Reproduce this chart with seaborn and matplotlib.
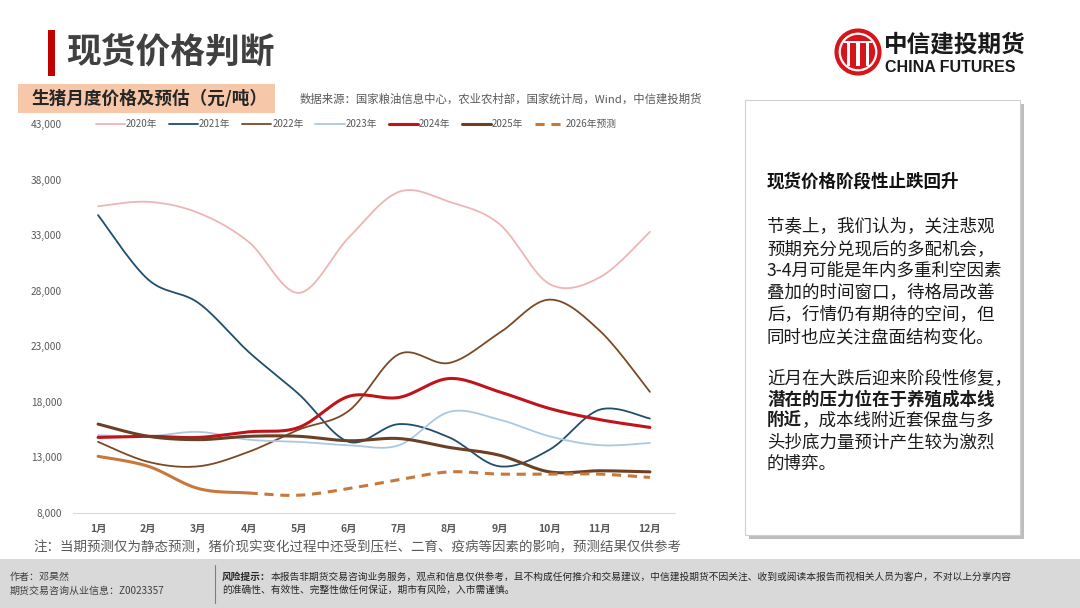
import numpy as np
import pandas as pd
import matplotlib
matplotlib.use('Agg')
import matplotlib.pyplot as plt
import matplotlib.patches as patches
from matplotlib.lines import Line2D
import seaborn as sns

# 数据（元/吨）
months = ['1月', '2月', '3月', '4月', '5月', '6月', '7月', '8月', '9月', '10月', '11月', '12月']
p2020 = [35600, 36000, 35000, 32400, 27800, 32800, 36900, 36000, 34000, 28600, 29200, 33300]
p2021 = [34800, 29000, 26900, 22500, 18700, 14400, 16000, 14800, 12200, 13700, 17300, 16500]
p2022 = [14400, 12600, 12200, 13500, 15500, 17200, 22300, 21500, 24200, 27200, 24400, 18900]
p2023 = [15000, 14900, 15300, 14600, 14400, 14100, 14100, 17100, 16400, 14900, 14100, 14300]
p2024 = [14800, 14900, 14800, 15300, 15700, 18500, 18400, 20100, 18900, 17400, 16400, 15700]
p2025 = [16000, 14900, 14600, 14900, 14900, 14500, 14700, 13900, 13200, 11700, 11800, 11700]
p2026 = [13100, 12200, 10200, 9800, 9600, 10200, 11000, 11700, 11500, 11500, 11500, 11200]
n_actual_2026 = 4  # 1-4月为实际，其后为预测
yticks = [8000, 13000, 18000, 23000, 28000, 33000, 38000, 43000]

series = [
    ('2020年', p2020, '#EDB5B6', 1.3),
    ('2021年', p2021, '#1F4E6E', 1.3),
    ('2022年', p2022, '#7A4A26', 1.3),
    ('2023年', p2023, '#A9C8E2', 1.3),
    ('2024年', p2024, '#C0141B', 2.2),
    ('2025年', p2025, '#6B4024', 2.2),
]
c2026 = '#C8783A'

sns.set_style('white')
plt.rcParams['font.family'] = ['Noto Sans CJK SC', 'DejaVu Sans']

W, H = 1080, 608


def fx(x):
    return x / W


def fy(y):
    return 1 - y / H


def smooth(ys, n=16):
    # Excel 风格平滑线（Bezier / Catmull-Rom）
    pts = np.column_stack([np.arange(len(ys)), ys]).astype(float)
    p = np.vstack([pts[0], pts, pts[-1]])
    t = np.linspace(0, 1, n, endpoint=False)[:, None]
    out = []
    for i in range(1, len(p) - 2):
        p0, p1, p2, p3 = p[i - 1], p[i], p[i + 1], p[i + 2]
        c1 = p1 + (p2 - p0) / 6
        c2 = p2 - (p3 - p1) / 6
        seg = (1 - t) ** 3 * p1 + 3 * (1 - t) ** 2 * t * c1 + 3 * (1 - t) * t ** 2 * c2 + t ** 3 * p2
        out.append(seg)
    out.append(pts[-1:])
    return np.vstack(out), n


fig = plt.figure(figsize=(10.8, 6.08), dpi=100)
fig.patch.set_facecolor('white')

ax = fig.add_axes([fx(73), fy(513), fx(675) - fx(73), fy(124) - fy(513)])

for name, vals, col, lw in series:
    cv, _ = smooth(vals)
    sns.lineplot(x=cv[:, 0], y=cv[:, 1], sort=False, estimator=None, ax=ax,
                 color=col, lw=lw, label=name)

cv, n = smooth(p2026)
cut = (n_actual_2026 - 1) * n
sns.lineplot(x=cv[:cut + 1, 0], y=cv[:cut + 1, 1], sort=False, estimator=None, ax=ax,
             color=c2026, lw=2.2)
sns.lineplot(x=cv[cut:, 0], y=cv[cut:, 1], sort=False, estimator=None, ax=ax,
             color=c2026, lw=2.2, linestyle=(0, (3, 2.2)), label='2026年预测')

ax.set_xlim(-0.5, len(months) - 0.5)
ax.set_ylim(yticks[0], yticks[-1])
ax.set_yticks(yticks)
ax.set_yticklabels([f'{v:,}' for v in yticks])
ax.set_xticks(range(len(months)))
ax.set_xticklabels(months)
ax.set_xticks(np.arange(-0.5, len(months), 1), minor=True)
ax.tick_params(axis='x', which='major', length=0, pad=8, labelsize=7.5, labelcolor='#595959')
ax.tick_params(axis='x', which='minor', length=4, color='#D9D9D9', width=0.8)
ax.tick_params(axis='y', length=0, pad=8, labelsize=7.3, labelcolor='#595959')
for lab in ax.get_xticklabels():
    lab.set_fontweight('bold')
for s in ['top', 'right', 'left']:
    ax.spines[s].set_visible(False)
ax.spines['bottom'].set_color('#D9D9D9')
ax.set_xlabel('')
ax.set_ylabel('')

leg = ax.legend(ncol=7, loc='center', bbox_to_anchor=(0.47, 1.0), frameon=False,
                fontsize=7, handlelength=3.0, columnspacing=1.2, handletextpad=0.1)
for t in leg.get_texts():
    t.set_color('#595959')

# 标题
fig.add_artist(patches.Rectangle((fx(48), fy(76)), fx(7), fy(30) - fy(76),
                                 transform=fig.transFigure, color='#C00000', lw=0))
fig.text(fx(66), fy(52), '现货价格判断', fontsize=25, fontweight='bold', color='#404040', va='center')

# Logo
lax = fig.add_axes([fx(834), fy(76), fx(48), fy(28) - fy(76)])
lax.set_aspect('equal')
lax.set_xlim(-1.05, 1.05)
lax.set_ylim(-1.05, 1.05)
lax.axis('off')
lax.add_patch(patches.Circle((0, 0), 1.0, color='#D7141A'))
lax.add_patch(patches.Circle((0, 0), 0.8, fill=False, ec='white', lw=1.6))
for xb in [-0.42, 0.0, 0.42]:
    lax.add_patch(patches.Rectangle((xb - 0.07, -0.6), 0.14, 1.05, color='white', lw=0))
lax.add_patch(patches.Rectangle((-0.6, 0.38), 1.2, 0.12, color='white', lw=0))
fig.text(fx(884), fy(45), '中信建投期货', fontsize=17, fontweight='bold', color='#1A1A1A', va='center')
fig.text(fx(885), fy(67), 'CHINA FUTURES', fontsize=11.5, fontweight='bold', color='#1A1A1A',
         va='center', family=['Liberation Sans', 'DejaVu Sans'])

# 小标题
fig.add_artist(patches.Rectangle((fx(18), fy(113)), fx(275) - fx(18), fy(84) - fy(113),
                                 transform=fig.transFigure, color='#F6C8A9', lw=0))
fig.text(fx(32), fy(99), '生猪月度价格及预估（元/吨）', fontsize=12.7, fontweight='bold',
         color='#262626', va='center')
fig.text(fx(300), fy(99), '数据来源：国家粮油信息中心，农业农村部，国家统计局，Wind，中信建投期货',
         fontsize=8.2, color='#595959', va='center')

# 注
fig.text(fx(33), fy(547), '注：当期预测仅为静态预测，猪价现实变化过程中还受到压栏、二育、疫病等因素的影响，预测结果仅供参考',
         fontsize=9.7, color='#595959', va='center')

# 右侧文本框
fig.add_artist(patches.Rectangle((fx(749), fy(539)), fx(1024) - fx(749), fy(104) - fy(539),
                                 transform=fig.transFigure, color='#BDBDBD', lw=0))
fig.add_artist(patches.Rectangle((fx(745), fy(535)), fx(1020) - fx(745), fy(100) - fy(535),
                                 transform=fig.transFigure, fc='white', ec='#D0D0D0', lw=0.8))

renderer = fig.canvas.get_renderer()


def mixed_line(x, y, parts, size, color):
    # parts: [(文本, 是否加粗), ...]
    for txt, bold in parts:
        t = fig.text(fx(x), fy(y), txt, fontsize=size, color=color, va='center',
                     fontweight='bold' if bold else 'normal')
        x = t.get_window_extent(renderer).x1


box_size = 12.6
fig.text(fx(767), fy(182), '现货价格阶段性止跌回升', fontsize=box_size, fontweight='bold',
         color='#111111', va='center')
para1 = ['节奏上，我们认为，关注悲观', '预期充分兑现后的多配机会，', '3-4月可能是年内多重利空因素',
         '叠加的时间窗口，待格局改善', '后，行情仍有期待的空间，但', '同时也应关注盘面结构变化。']
for i, line in enumerate(para1):
    fig.text(fx(767), fy(227 + i * 22), line, fontsize=box_size, color='#1A1A1A', va='center')
para2 = [
    [('近月在大跌后迎来阶段性修复，', False)],
    [('潜在的压力位在于养殖成本线', True)],
    [('附近', True), ('，成本线附近套保盘与多', False)],
    [('头抄底力量预计产生较为激烈', False)],
    [('的博弈。', False)],
]
for i, parts in enumerate(para2):
    mixed_line(767, 378 + i * 21.5, parts, box_size, '#1A1A1A')

# 页脚
fig.add_artist(patches.Rectangle((0, 0), 1, fy(559), transform=fig.transFigure,
                                 color='#D9D9D9', lw=0))
fig.add_artist(Line2D([fx(215), fx(215)], [fy(565), fy(603)], transform=fig.transFigure,
                      color='#7F7F7F', lw=0.8))
fig.text(fx(10), fy(577), '作者：邓昊然', fontsize=7.2, color='#404040', va='center')
fig.text(fx(10), fy(591), '期货交易咨询从业信息：Z0023357', fontsize=7.2, color='#404040', va='center')
mixed_line(222, 577, [('风险提示：', True),
                      ('本报告非期货交易咨询业务服务，观点和信息仅供参考，且不构成任何推介和交易建议，中信建投期货不因关注、收到或阅读本报告而视相关人员为客户，不对以上分享内容', False)],
           7.0, '#262626')
fig.text(fx(222), fy(590), '的准确性、有效性、完整性做任何保证，期市有风险，入市需谨慎。',
         fontsize=7.0, color='#262626', va='center')

fig.savefig('out.png', dpi=100)
